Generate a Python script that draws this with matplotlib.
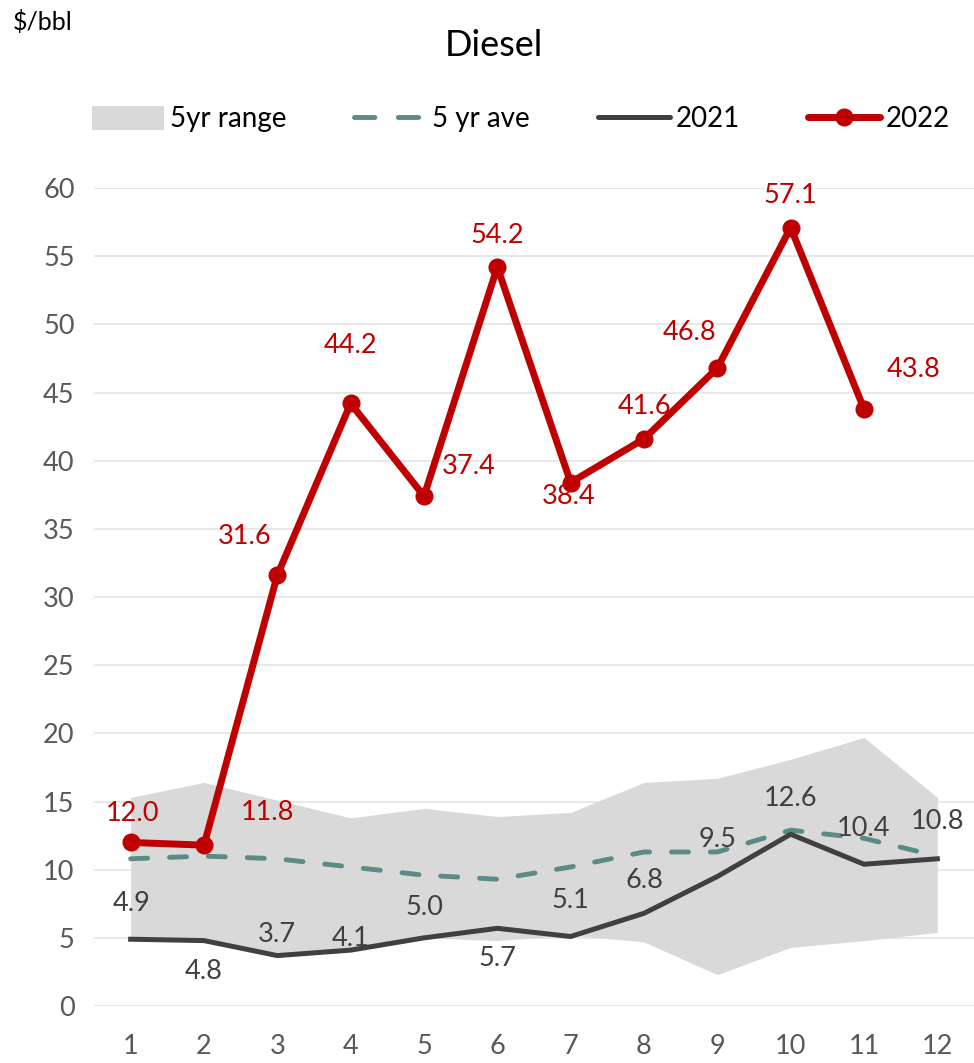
import matplotlib.pyplot as plt
from matplotlib.patches import Patch
from matplotlib.lines import Line2D

plt.rcParams['font.family'] = ['Lato', 'DejaVu Sans']

months = [1, 2, 3, 4, 5, 6, 7, 8, 9, 10, 11, 12]
range_low = [5.0, 4.9, 3.9, 4.0, 5.0, 4.8, 5.2, 4.7, 2.3, 4.3, 4.8, 5.4]
range_high = [15.3, 16.4, 15.1, 13.8, 14.5, 13.9, 14.2, 16.4, 16.7, 18.1, 19.7, 15.3]
ave_5yr = [10.8, 11.0, 10.8, 10.2, 9.6, 9.3, 10.2, 11.3, 11.3, 12.9, 12.3, 11.0]
y2021 = [4.9, 4.8, 3.7, 4.1, 5.0, 5.7, 5.1, 6.8, 9.5, 12.6, 10.4, 10.8]
y2022 = [12.0, 11.8, 31.6, 44.2, 37.4, 54.2, 38.4, 41.6, 46.8, 57.1, 43.8]

# label offsets in pixels (dx, dy) picked by eye
off2021 = [(1, 36), (0, -31), (0, 21), (0, 12), (0, 30), (0, -30),
           (0, 36), (0, 33), (0, 37), (0, 36), (0, 36), (0, 37)]
off2022 = [(2, 29), (63, 33), (-33, 39), (0, 58), (45, 30), (0, 32),
           (-2, -14), (0, 32), (-28, 35), (0, 32), (50, 39)]

RED = '#C00000'
DARK = '#404040'
TEAL = '#5B8A87'
GREY = '#D9D9D9'
TXT = '#595959'
FS = 19.5

fig = plt.figure(figsize=(9.74, 10.63), dpi=100)
ax = fig.add_axes([0.0965, 0.0536, 0.9035, 0.7695])

ax.fill_between(months, range_low, range_high, color=GREY, lw=0, zorder=1)
ax.plot(months, ave_5yr, color=TEAL, lw=3.5, dashes=(3.5, 4.5),
        dash_capstyle='round', zorder=2)
ax.plot(months, y2021, color=DARK, lw=3.6, zorder=3)
ax.plot(months[:len(y2022)], y2022, color=RED, lw=5, marker='o',
        markersize=12, zorder=4)

for x, v, (dx, dy) in zip(months, y2021, off2021):
    ax.annotate(f'{v:.1f}', (x, v), xytext=(dx, dy), textcoords='offset pixels',
                ha='center', va='center', fontsize=FS, color=DARK, zorder=5)
for x, v, (dx, dy) in zip(months, y2022, off2022):
    ax.annotate(f'{v:.1f}', (x, v), xytext=(dx, dy), textcoords='offset pixels',
                ha='center', va='center', fontsize=FS, color=RED, zorder=5)

ax.set_xlim(0.5, 12.5)
ax.set_ylim(0, 60)
ax.set_xticks(months)
ax.set_yticks(range(0, 61, 5))
ax.tick_params(length=0, labelsize=FS, labelcolor=TXT)
ax.tick_params(axis='y', pad=14)
ax.tick_params(axis='x', pad=20)
ax.grid(axis='y', color='#E6E6E6', lw=1.3, zorder=0)
ax.set_axisbelow(True)
for s in ax.spines.values():
    s.set_visible(False)
ax.axhline(0, color='#D9D9D9', lw=1.5, zorder=0)

handles = [
    Patch(facecolor=GREY, edgecolor='none'),
    Line2D([], [], color=TEAL, lw=3.5, dashes=(4.2, 4.8), dash_capstyle='round'),
    Line2D([], [], color=DARK, lw=3.6, solid_capstyle='round'),
    Line2D([], [], color=RED, lw=5, marker='o', markersize=12, solid_capstyle='round'),
]
labels = ['5yr range', '5 yr ave', '2021', '2022']
fig.legend(handles, labels, loc='center', bbox_to_anchor=(0.535, 1 - 119 / 1063),
           ncol=4, frameon=False, fontsize=20, handlelength=2.6,
           handletextpad=0.2, columnspacing=2.45, handleheight=1.0)

fig.text(494 / 974, 1 - 45 / 1063, 'Diesel', ha='center', va='center',
         fontsize=26, color='black')
fig.text(13 / 974, 1 - 22 / 1063, '$/bbl', ha='left', va='center',
         fontsize=18, color='black')

fig.savefig('out.png', dpi=100)
